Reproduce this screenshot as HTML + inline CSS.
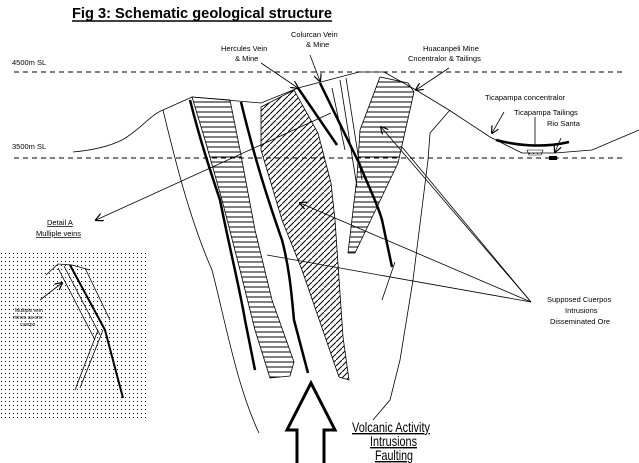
<!DOCTYPE html>
<html><head><style>
body{margin:0;background:#fff;overflow:hidden;}
svg{display:block;font-family:"Liberation Sans",sans-serif;}
</style></head><body>
<svg width="639" height="463" viewBox="0 0 639 463" xmlns="http://www.w3.org/2000/svg">
<defs>
<pattern id="dots" width="4" height="4" patternUnits="userSpaceOnUse"><rect x="1" y="1" width="1" height="1" fill="#000"/></pattern>
<pattern id="hh" width="6" height="5" patternUnits="userSpaceOnUse"><line x1="0" y1="2" x2="6" y2="2" stroke="#000" stroke-width="1"/></pattern>
<pattern id="dh" width="6" height="6" patternUnits="userSpaceOnUse"><line x1="0" y1="6" x2="6" y2="0" stroke="#000" stroke-width="1"/></pattern>
<marker id="ar" markerWidth="8" markerHeight="8" refX="7" refY="4" orient="auto" markerUnits="userSpaceOnUse"><path d="M0,0 L8,4 L0,8" fill="none" stroke="#000" stroke-width="1.2"/></marker>
</defs>
<text x="72" y="18" font-size="15" font-weight="bold" textLength="260" lengthAdjust="spacingAndGlyphs">Fig 3: Schematic geological structure</text>
<line x1="72" y1="21" x2="332" y2="21" stroke="#000" stroke-width="1.5"/>
<g font-size="7.5">
<text x="12" y="65">4500m SL</text>
<text x="12" y="149">3500m SL</text>
<text x="221" y="51">Hercules Vein</text><text x="235" y="61">&amp; Mine</text>
<text x="291" y="37">Colurcan Vein</text><text x="306" y="47">&amp; Mine</text>
<text x="423" y="51">Huacanpeli Mine</text><text x="408" y="61">Cncentralor &amp; Tailings</text>
<text x="485" y="100">Ticapampa concentralor</text>
<text x="514" y="115">Ticapampa Tailings</text>
<text x="547" y="126">Rio Santa</text>
<text x="47" y="225" text-decoration="underline">Detail A</text>
<text x="36" y="236" text-decoration="underline">Mulliple veins</text>
<text x="547" y="302">Supposed Cuerpos</text>
<text x="565" y="313">Intrusions</text>
<text x="550" y="324">Disseminated Ore</text>
</g>
<g stroke="#000" stroke-width="1" stroke-dasharray="5,4"><line x1="14" y1="72" x2="622" y2="72"/><line x1="14" y1="158" x2="622" y2="158"/></g>
<g fill="none" stroke="#000" stroke-width="0.8">
<path d="M73,152 C95,150 110,146 122,140 C140,130 150,115 163,110 L192,97 L261,103 L298,88 L359,72 L384,72 L416,90 L449,110 L490,137 L522,153 L555,153 L592,150 L639,130"/>
<path d="M163,110 C175,160 190,220 212,270 C225,320 237,387 259,433"/>
<path d="M450,110 L430,133 L428,160 L413,280 L400,360 L390,400 L373,420"/>
<path d="M340,80 L357,187"/><path d="M346,78 L362,180"/>
<path d="M332,88 L345,150"/>
<path d="M395,262 L382,300"/>
</g>
<path d="M192,97 L230,100 L240,150 L255,230 L272,300 L294,362 L290,376 L270,378 L255,330 L240,270 L222,200 L205,140 Z" fill="url(#hh)" stroke="#000" stroke-width="0.8"/>
<path d="M261,107 L294,90 L318,133 L331,183 L335,220 L343,337 L349,380 L339,377 L302,270 L282,220 L261,150 Z" fill="url(#dh)" stroke="#000" stroke-width="0.8"/>
<path d="M380,77 L408,83 L414,92 L398,163 L377,207 L355,253 L348,253 L357,177 L360,130 Z" fill="url(#hh)" stroke="#000" stroke-width="0.8"/>
<g fill="none" stroke="#000" stroke-width="2.5">
<path d="M190,100 C200,140 210,170 220,200 C230,250 240,290 245,320 L255,370"/>
<path d="M241,102 C255,160 268,200 282,240 C290,270 292,300 294,320 L308,373"/>
<path d="M298,88 L337,145"/>
<path d="M320,83 L359,163 C370,190 378,205 382,220 L392,267"/>
</g>
<g fill="none" stroke="#000" stroke-width="0.8">
<path d="M449,68 L416,90" marker-end="url(#ar)"/>
<path d="M261,63 L298,88" marker-end="url(#ar)"/>
<path d="M310,55 L320,81" marker-end="url(#ar)"/>
<path d="M504,112 L492,133" marker-end="url(#ar)"/>
<path d="M331,113 L96,220" marker-end="url(#ar)"/>
<path d="M531,302 L381,127" marker-end="url(#ar)"/>
<path d="M531,302 L300,203" marker-end="url(#ar)"/>
<path d="M531,302 L267,255"/>
<path d="M531,302 L402,147"/>
<path d="M535,117 L535,147"/>
<path d="M561,138 L555,152" marker-end="url(#ar)"/>
</g>
<path d="M496,140 Q535,150 569,142" fill="none" stroke="#000" stroke-width="2.5"/>
<path d="M527,150 L543,150 L541,155 L529,155 Z" fill="url(#dots)" stroke="#000" stroke-width="0.6"/>
<rect x="549" y="156" width="8" height="4" fill="#000"/>
<path d="M311,383 L335,430 L324,430 L324,465 L297,465 L297,430 L287,430 Z" fill="#fff" stroke="#000" stroke-width="3"/>
<g font-size="14" text-decoration="underline">
<text x="352" y="432" textLength="78" lengthAdjust="spacingAndGlyphs">Volcanic Activity</text>
<text x="370" y="446" textLength="47" lengthAdjust="spacingAndGlyphs">Intrusions</text>
<text x="375" y="460" textLength="38" lengthAdjust="spacingAndGlyphs">Faulting</text>
</g>
<rect x="0" y="250" width="146" height="170" fill="url(#dots)"/>
<g fill="none" stroke="#000" stroke-width="0.8">
<path d="M46,275 L58,264 L72,265 L90,270"/>
<path d="M58,268 L95,340"/><path d="M64,266 L100,335"/><path d="M85,268 L110,320"/>
<path d="M98,330 L75,390"/><path d="M103,330 L80,388"/>
<path d="M40,300 L62,283" marker-end="url(#ar)"/>
</g>
<path d="M70,265 L105,330 L123,398" fill="none" stroke="#000" stroke-width="2"/>
<g font-size="5"><text x="15" y="312">Multiple vein</text><text x="13" y="319">mines as one</text><text x="20" y="326">cuerpo</text></g>
</svg>
</body></html>
